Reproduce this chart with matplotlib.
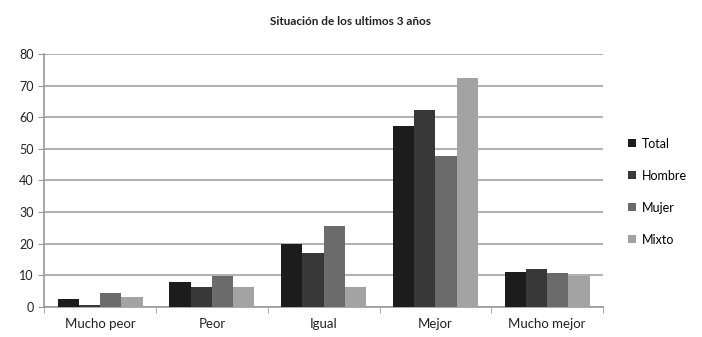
import numpy as np
import matplotlib.pyplot as plt

plt.rcParams['font.family'] = ['Lato', 'DejaVu Sans']

categories = ['Mucho peor', 'Peor', 'Igual', 'Mejor', 'Mucho mejor']
series = ['Total', 'Hombre', 'Mujer', 'Mixto']
total = [2.4, 8.0, 19.9, 57.3, 11.0]
hombre = [0.6, 6.4, 17.2, 62.3, 11.9]
mujer = [4.3, 9.8, 25.6, 47.6, 10.9]
mixto = [3.3, 6.4, 6.4, 72.5, 9.8]
colors = ['#1c1c1c', '#383838', '#6b6b6b', '#a3a3a3']


def make_chart():
    fig = plt.figure(figsize=(7.02, 3.37), dpi=100)
    ax = fig.add_axes([0.063, 0.089, 0.796, 0.751])

    x = np.arange(len(categories))
    w = 0.19
    data = [total, hombre, mujer, mixto]
    for i, (name, vals) in enumerate(zip(series, data)):
        ax.bar(x + (i - 1.5) * w, vals, w, color=colors[i], label=name, zorder=3)

    ax.set_xlim(-0.5, len(categories) - 0.5)
    ax.set_ylim(0, 80)
    ax.set_yticks(range(0, 81, 10))
    ax.yaxis.grid(True, color='#b0b0b0', linewidth=1.4, zorder=0)
    ax.set_axisbelow(True)

    ax.set_xticks(x)
    ax.set_xticklabels(categories, fontsize=9.5, color='#222222')
    ax.tick_params(axis='x', length=0, pad=8)
    ax.set_xticks(np.arange(-0.5, len(categories), 1), minor=True)
    ax.tick_params(axis='x', which='minor', length=4, color='#999999')
    ax.tick_params(axis='y', labelsize=9, length=4, color='#999999', labelcolor='#222222')

    for s in ['top', 'right']:
        ax.spines[s].set_visible(False)
    ax.spines['left'].set_color('#999999')
    ax.spines['bottom'].set_color('#999999')
    ax.spines['left'].set_linewidth(1.2)
    ax.spines['bottom'].set_linewidth(1.2)

    fig.text(0.5, 0.935, 'Situación de los ultimos 3 años', ha='center', va='center',
             fontsize=8.5, fontweight='bold', color='#222222')

    ax.legend(loc='center left', bbox_to_anchor=(1.025, 0.455), frameon=False,
              fontsize=9, handlelength=0.6, handleheight=0.6, labelspacing=1.6,
              handletextpad=0.5)

    fig.savefig('out.png', dpi=100)


if __name__ == '__main__':
    make_chart()
